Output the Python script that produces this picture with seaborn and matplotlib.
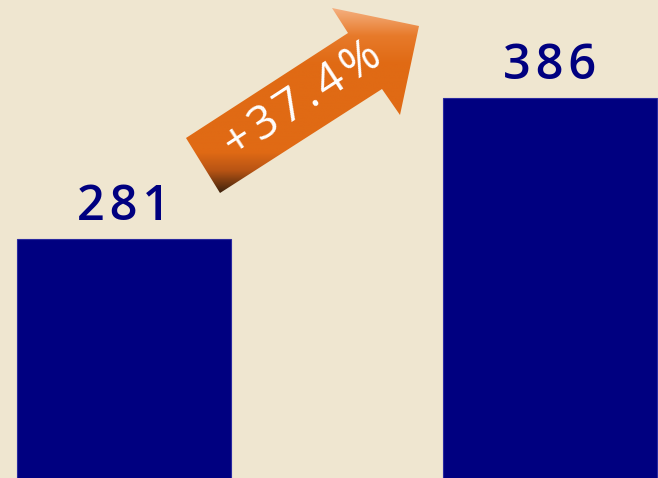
import numpy as np
import pandas as pd
import matplotlib
matplotlib.use("Agg")
import matplotlib.pyplot as plt
from matplotlib.patches import Polygon
from matplotlib.colors import LinearSegmentedColormap
import seaborn as sns

# data
periods = ["Before", "After"]
values = [281, 386]
change_label = "+37.4%"

bg = "#EFE6D0"
navy = "#000080"

sns.set_theme(style="white")
plt.rcParams['font.family'] = ['Open Sans', 'DejaVu Sans']

fig = plt.figure(figsize=(6.58, 4.78), dpi=100, facecolor=bg)
ax = fig.add_axes([0, 0, 1, 1])
ax.set_facecolor(bg)

df = pd.DataFrame({"period": periods, "value": values})
sns.barplot(data=df, x="period", y="value", color=navy, width=0.502,
            saturation=1, edgecolor="#2a2aa0", linewidth=0.8, ax=ax)

ax.set_xlim(-0.291, 1.254)
ax.set_ylim(103, 459)
ax.axis("off")

hair = "\u200a"

# value labels
for i, v in enumerate(values):
    ax.text(i, v + 14, hair.join(str(v)), ha="center", va="baseline", color=navy,
            fontsize=35, fontweight="semibold")

# arrow (pixel coords from top-left -> axes fraction)
W, H = 658, 478
pts_px = [(186, 138), (348, 33), (332, 8), (419, 26), (400, 115), (382, 89), (220, 193)]
pts = [(x / W, 1 - y / H) for x, y in pts_px]
arrow = Polygon(pts, closed=True, transform=ax.transAxes, facecolor="none", edgecolor="none")
ax.add_patch(arrow)

cmap = LinearSegmentedColormap.from_list(
    "arrow", [(0.0, "#F5B080"), (0.15, "#E77A2A"), (0.3, "#E06A14"),
              (0.78, "#E06A14"), (0.88, "#B85414"), (1.0, "#3E220C")])
grad = np.linspace(0, 1, 256).reshape(-1, 1)
img = ax.imshow(grad, cmap=cmap, aspect="auto", transform=ax.transAxes,
                extent=[186 / W, 419 / W, 1 - 193 / H, 1 - 8 / H], zorder=3)
img.set_clip_path(arrow)

ax.text(303 / W, 1 - 100 / H, hair.join(change_label), transform=ax.transAxes,
        ha="center", va="center", rotation=33, rotation_mode="anchor",
        color="white", fontsize=33, zorder=4)

fig.savefig("out.png", dpi=100, facecolor=bg)
